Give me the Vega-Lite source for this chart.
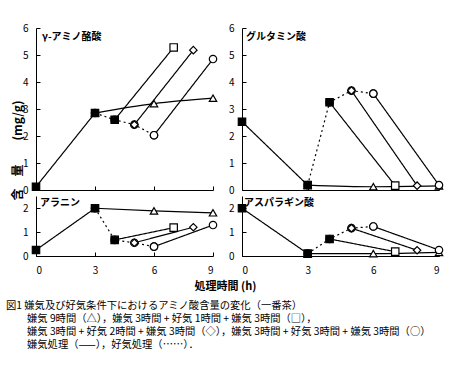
{
  "$schema": "https://vega.github.io/schema/vega-lite/v6.json",
  "padding": {"left": 6, "top": 23, "right": 5, "bottom": 5},
  "background": "white",
  "bounds": "flush",
  "align": "each",
  "columns": 2,
  "spacing": {"row": 6, "column": 29},
  "config": {
    "view": {"stroke": null},
    "font": "Noto Sans CJK JP",
    "axis": {"domainColor": "black", "domainWidth": 1, "tickColor": "black", "tickSize": -4, "labelPadding": 12, "labelFont": "Noto Sans CJK JP", "labelFontSize": 10, "labelColor": "black", "grid": false, "titleColor": "black"},
    "title": {"color": "black"}
  },
  "datasets": {
    "d": [
      {"p": "γ-アミノ酪酸", "s": "共通", "c": "嫌気", "t": 0, "v": 0.12},
      {"p": "γ-アミノ酪酸", "s": "共通", "c": "嫌気", "t": 3, "v": 2.85},
      {"p": "γ-アミノ酪酸", "s": "△", "c": "嫌気", "t": 3, "v": 2.85},
      {"p": "γ-アミノ酪酸", "s": "△", "c": "嫌気", "t": 6, "v": 3.2},
      {"p": "γ-アミノ酪酸", "s": "△", "c": "嫌気", "t": 9, "v": 3.4},
      {"p": "γ-アミノ酪酸", "s": "○", "c": "好気", "t": 3, "v": 2.85},
      {"p": "γ-アミノ酪酸", "s": "○", "c": "好気", "t": 4, "v": 2.6},
      {"p": "γ-アミノ酪酸", "s": "○", "c": "好気", "t": 5, "v": 2.42},
      {"p": "γ-アミノ酪酸", "s": "○", "c": "好気", "t": 6, "v": 2.03},
      {"p": "γ-アミノ酪酸", "s": "□", "c": "嫌気", "t": 4, "v": 2.6},
      {"p": "γ-アミノ酪酸", "s": "□", "c": "嫌気", "t": 7, "v": 5.28},
      {"p": "γ-アミノ酪酸", "s": "◇", "c": "嫌気", "t": 5, "v": 2.42},
      {"p": "γ-アミノ酪酸", "s": "◇", "c": "嫌気", "t": 8, "v": 5.18},
      {"p": "γ-アミノ酪酸", "s": "○", "c": "嫌気", "t": 6, "v": 2.03},
      {"p": "γ-アミノ酪酸", "s": "○", "c": "嫌気", "t": 9, "v": 4.85},

      {"p": "グルタミン酸", "s": "共通", "c": "嫌気", "t": 0, "v": 2.53},
      {"p": "グルタミン酸", "s": "共通", "c": "嫌気", "t": 3, "v": 0.18},
      {"p": "グルタミン酸", "s": "△", "c": "嫌気", "t": 3, "v": 0.18},
      {"p": "グルタミン酸", "s": "△", "c": "嫌気", "t": 6, "v": 0.12},
      {"p": "グルタミン酸", "s": "△", "c": "嫌気", "t": 9, "v": 0.15},
      {"p": "グルタミン酸", "s": "○", "c": "好気", "t": 3, "v": 0.18},
      {"p": "グルタミン酸", "s": "○", "c": "好気", "t": 4, "v": 3.25},
      {"p": "グルタミン酸", "s": "○", "c": "好気", "t": 5, "v": 3.68},
      {"p": "グルタミン酸", "s": "○", "c": "好気", "t": 6, "v": 3.57},
      {"p": "グルタミン酸", "s": "□", "c": "嫌気", "t": 4, "v": 3.25},
      {"p": "グルタミン酸", "s": "□", "c": "嫌気", "t": 7, "v": 0.16},
      {"p": "グルタミン酸", "s": "◇", "c": "嫌気", "t": 5, "v": 3.68},
      {"p": "グルタミン酸", "s": "◇", "c": "嫌気", "t": 8, "v": 0.16},
      {"p": "グルタミン酸", "s": "○", "c": "嫌気", "t": 6, "v": 3.57},
      {"p": "グルタミン酸", "s": "○", "c": "嫌気", "t": 9, "v": 0.18},

      {"p": "アラニン", "s": "共通", "c": "嫌気", "t": 0, "v": 0.25},
      {"p": "アラニン", "s": "共通", "c": "嫌気", "t": 3, "v": 1.99},
      {"p": "アラニン", "s": "△", "c": "嫌気", "t": 3, "v": 1.99},
      {"p": "アラニン", "s": "△", "c": "嫌気", "t": 6, "v": 1.88},
      {"p": "アラニン", "s": "△", "c": "嫌気", "t": 9, "v": 1.8},
      {"p": "アラニン", "s": "○", "c": "好気", "t": 3, "v": 1.99},
      {"p": "アラニン", "s": "○", "c": "好気", "t": 4, "v": 0.67},
      {"p": "アラニン", "s": "○", "c": "好気", "t": 5, "v": 0.55},
      {"p": "アラニン", "s": "○", "c": "好気", "t": 6, "v": 0.39},
      {"p": "アラニン", "s": "□", "c": "嫌気", "t": 4, "v": 0.67},
      {"p": "アラニン", "s": "□", "c": "嫌気", "t": 7, "v": 1.18},
      {"p": "アラニン", "s": "◇", "c": "嫌気", "t": 5, "v": 0.55},
      {"p": "アラニン", "s": "◇", "c": "嫌気", "t": 8, "v": 1.2},
      {"p": "アラニン", "s": "○", "c": "嫌気", "t": 6, "v": 0.39},
      {"p": "アラニン", "s": "○", "c": "嫌気", "t": 9, "v": 1.29},

      {"p": "アスパラギン酸", "s": "共通", "c": "嫌気", "t": 0, "v": 1.99},
      {"p": "アスパラギン酸", "s": "共通", "c": "嫌気", "t": 3, "v": 0.1},
      {"p": "アスパラギン酸", "s": "△", "c": "嫌気", "t": 3, "v": 0.1},
      {"p": "アスパラギン酸", "s": "△", "c": "嫌気", "t": 6, "v": 0.1},
      {"p": "アスパラギン酸", "s": "△", "c": "嫌気", "t": 9, "v": 0.15},
      {"p": "アスパラギン酸", "s": "○", "c": "好気", "t": 3, "v": 0.1},
      {"p": "アスパラギン酸", "s": "○", "c": "好気", "t": 4, "v": 0.71},
      {"p": "アスパラギン酸", "s": "○", "c": "好気", "t": 5, "v": 1.16},
      {"p": "アスパラギン酸", "s": "○", "c": "好気", "t": 6, "v": 1.23},
      {"p": "アスパラギン酸", "s": "□", "c": "嫌気", "t": 4, "v": 0.71},
      {"p": "アスパラギン酸", "s": "□", "c": "嫌気", "t": 7, "v": 0.18},
      {"p": "アスパラギン酸", "s": "◇", "c": "嫌気", "t": 5, "v": 1.16},
      {"p": "アスパラギン酸", "s": "◇", "c": "嫌気", "t": 8, "v": 0.24},
      {"p": "アスパラギン酸", "s": "○", "c": "嫌気", "t": 6, "v": 1.23},
      {"p": "アスパラギン酸", "s": "○", "c": "嫌気", "t": 9, "v": 0.25}
    ]
  },
  "title": {
    "text": [
      "図1 嫌気及び好気条件下におけるアミノ酸含量の変化（一番茶）",
      "⠀⠀⠀嫌気 9時間（△），嫌気 3時間 + 好気 1時間 + 嫌気 3時間（□），",
      "⠀⠀⠀嫌気 3時間 + 好気 2時間 + 嫌気 3時間（◇），嫌気 3時間 + 好気 3時間 + 嫌気 3時間（○）",
      "⠀⠀⠀嫌気処理（——），好気処理（……）．"
    ],
    "orient": "bottom", "anchor": "start", "frame": "group", "dx": -30, "offset": 10,
    "font": "Noto Sans CJK JP", "fontSize": 10.3, "fontWeight": "normal", "lineHeight": 13
  },
  "concat": [
    {
      "width": 177, "height": 162,
      "title": {"text": "γ-アミノ酪酸", "anchor": "start", "frame": "group", "offset": -19, "dx": 6, "fontSize": 10, "fontWeight": "bold"},
      "data": {"name": "d"},
      "transform": [{"filter": "datum.p == 'γ-アミノ酪酸'"}],
      "encoding": {
        "x": {"field": "t", "type": "quantitative", "scale": {"domain": [0, 9], "nice": false}, "axis": {"values": [0, 3, 6, 9], "labels": false, "title": null}},
        "y": {"field": "v", "type": "quantitative", "scale": {"domain": [0, 6], "nice": false}, "axis": {"values": [0, 1, 2, 3, 4, 5, 6], "title": "含　量　　(mg/g)", "titleX": -12, "titleY": 122, "titleAngle": -90, "titleAlign": "center", "titleBaseline": "bottom", "titleFontSize": 12, "titleFontWeight": "bold"}}
      },
      "layer": [
        {"transform": [{"filter": "datum.s == '△'"}], "mark": {"type": "line", "interpolate": "monotone", "color": "black", "strokeWidth": 1.2}, "encoding": {"detail": {"field": "s"}}},
        {"transform": [{"filter": "datum.s != '△'"}], "mark": {"type": "line", "color": "black", "strokeWidth": 1.2}, "encoding": {"detail": [{"field": "s"}, {"field": "c"}], "strokeDash": {"field": "c", "type": "nominal", "scale": {"domain": ["嫌気", "好気"], "range": [[1, 0], [2, 3]]}, "legend": null}}},
        {"mark": {"type": "point", "filled": true, "fill": "white", "stroke": "black", "strokeWidth": 1.2, "size": 55, "opacity": 1}, "encoding": {"shape": {"field": "s", "type": "nominal", "scale": {"domain": ["共通", "△", "□", "◇", "○"], "range": ["square", "triangle-up", "square", "diamond", "circle"]}, "legend": null}}},
        {"transform": [{"filter": "datum.s == '共通' || (datum.s == '□' && datum.t == 4)"}], "mark": {"type": "square", "color": "black", "size": 55, "opacity": 1}}
      ]
    },
    {
      "width": 197, "height": 162,
      "title": {"text": "グルタミン酸", "anchor": "start", "frame": "group", "offset": -19, "dx": 4, "fontSize": 10, "fontWeight": "bold"},
      "data": {"name": "d"},
      "transform": [{"filter": "datum.p == 'グルタミン酸'"}],
      "encoding": {
        "x": {"field": "t", "type": "quantitative", "scale": {"domain": [0, 9], "nice": false}, "axis": {"values": [0, 3, 6, 9], "labels": false, "title": null}},
        "y": {"field": "v", "type": "quantitative", "scale": {"domain": [0, 6], "nice": false}, "axis": {"values": [0, 1, 2, 3, 4, 5, 6], "title": null}}
      },
      "layer": [
        {"transform": [{"filter": "datum.s == '△'"}], "mark": {"type": "line", "interpolate": "monotone", "color": "black", "strokeWidth": 1.2}, "encoding": {"detail": {"field": "s"}}},
        {"transform": [{"filter": "datum.s != '△'"}], "mark": {"type": "line", "color": "black", "strokeWidth": 1.2}, "encoding": {"detail": [{"field": "s"}, {"field": "c"}], "strokeDash": {"field": "c", "type": "nominal", "scale": {"domain": ["嫌気", "好気"], "range": [[1, 0], [2, 3]]}, "legend": null}}},
        {"mark": {"type": "point", "filled": true, "fill": "white", "stroke": "black", "strokeWidth": 1.2, "size": 55, "opacity": 1}, "encoding": {"shape": {"field": "s", "type": "nominal", "scale": {"domain": ["共通", "△", "□", "◇", "○"], "range": ["square", "triangle-up", "square", "diamond", "circle"]}, "legend": null}}},
        {"transform": [{"filter": "datum.s == '共通' || (datum.s == '□' && datum.t == 4)"}], "mark": {"type": "square", "color": "black", "size": 55, "opacity": 1}}
      ]
    },
    {
      "width": 177, "height": 60,
      "title": {"text": "アラニン", "anchor": "start", "frame": "group", "offset": -12, "dx": 4, "fontSize": 10, "fontWeight": "bold"},
      "data": {"name": "d"},
      "transform": [{"filter": "datum.p == 'アラニン'"}],
      "encoding": {
        "x": {"field": "t", "type": "quantitative", "scale": {"domain": [0, 9], "nice": false}, "axis": {"values": [0, 3, 6, 9], "title": "処理時間 (h)", "labelPadding": 13, "titleX": 189, "titleY": 24, "titleAnchor": null, "titleAlign": "center", "titleBaseline": "top", "titleFontSize": 11, "titleFontWeight": "bold"}},
        "y": {"field": "v", "type": "quantitative", "scale": {"domain": [0, 2.5], "nice": false}, "axis": {"values": [0, 1, 2], "title": null}}
      },
      "layer": [
        {"transform": [{"filter": "datum.s == '△'"}], "mark": {"type": "line", "interpolate": "monotone", "color": "black", "strokeWidth": 1.2}, "encoding": {"detail": {"field": "s"}}},
        {"transform": [{"filter": "datum.s != '△'"}], "mark": {"type": "line", "color": "black", "strokeWidth": 1.2}, "encoding": {"detail": [{"field": "s"}, {"field": "c"}], "strokeDash": {"field": "c", "type": "nominal", "scale": {"domain": ["嫌気", "好気"], "range": [[1, 0], [2, 3]]}, "legend": null}}},
        {"mark": {"type": "point", "filled": true, "fill": "white", "stroke": "black", "strokeWidth": 1.2, "size": 55, "opacity": 1}, "encoding": {"shape": {"field": "s", "type": "nominal", "scale": {"domain": ["共通", "△", "□", "◇", "○"], "range": ["square", "triangle-up", "square", "diamond", "circle"]}, "legend": null}}},
        {"transform": [{"filter": "datum.s == '共通' || (datum.s == '□' && datum.t == 4)"}], "mark": {"type": "square", "color": "black", "size": 55, "opacity": 1}}
      ]
    },
    {
      "width": 197, "height": 60,
      "title": {"text": "アスパラギン酸", "anchor": "start", "frame": "group", "offset": -12, "dx": 2, "fontSize": 10, "fontWeight": "bold"},
      "data": {"name": "d"},
      "transform": [{"filter": "datum.p == 'アスパラギン酸'"}],
      "encoding": {
        "x": {"field": "t", "type": "quantitative", "scale": {"domain": [0, 9], "nice": false}, "axis": {"values": [0, 3, 6, 9], "title": null, "labelPadding": 13}},
        "y": {"field": "v", "type": "quantitative", "scale": {"domain": [0, 2.5], "nice": false}, "axis": {"values": [0, 1, 2], "title": null}}
      },
      "layer": [
        {"transform": [{"filter": "datum.s == '△'"}], "mark": {"type": "line", "interpolate": "monotone", "color": "black", "strokeWidth": 1.2}, "encoding": {"detail": {"field": "s"}}},
        {"transform": [{"filter": "datum.s != '△'"}], "mark": {"type": "line", "color": "black", "strokeWidth": 1.2}, "encoding": {"detail": [{"field": "s"}, {"field": "c"}], "strokeDash": {"field": "c", "type": "nominal", "scale": {"domain": ["嫌気", "好気"], "range": [[1, 0], [2, 3]]}, "legend": null}}},
        {"mark": {"type": "point", "filled": true, "fill": "white", "stroke": "black", "strokeWidth": 1.2, "size": 55, "opacity": 1}, "encoding": {"shape": {"field": "s", "type": "nominal", "scale": {"domain": ["共通", "△", "□", "◇", "○"], "range": ["square", "triangle-up", "square", "diamond", "circle"]}, "legend": null}}},
        {"transform": [{"filter": "datum.s == '共通' || (datum.s == '□' && datum.t == 4)"}], "mark": {"type": "square", "color": "black", "size": 55, "opacity": 1}}
      ]
    }
  ]
}
